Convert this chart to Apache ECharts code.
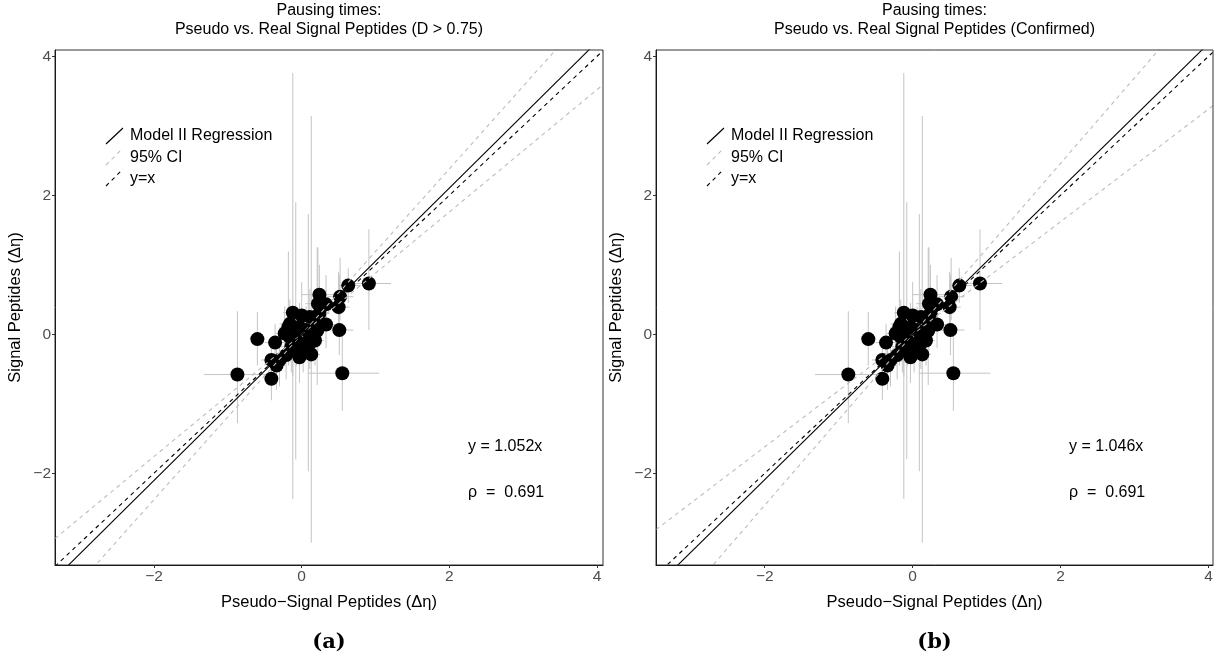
<!DOCTYPE html>
<html>
<head>
<meta charset="utf-8">
<script src="https://cdn.jsdelivr.net/npm/echarts@6/dist/echarts.min.js"></script>
<style>
html,body{margin:0;padding:0;background:#fff;}
#chart{width:1225px;height:668px;}
</style>
</head>
<body>
<div id="chart"></div>
<script>
// ---- data ----
const pointX = [-0.87,-0.60,-0.41,-0.41,-0.36,0.55,0.51,0.91,0.63,0.50,0.52,0.24,0.22,0.33,0.33,0.13,-0.12,0.00,-0.08,0.09,-0.23,-0.16,-0.03,0.06,0.15,-0.07,0.02,-0.12,-0.21,-0.30,-0.34,0.18,0.22,0.11,-0.14,-0.03,-0.16,0.11,0.24,0.21,-0.18];
const pointY = [-0.58,-0.07,-0.64,-0.37,-0.12,-0.56,0.06,0.73,0.70,0.39,0.54,0.57,0.44,0.43,0.14,-0.29,0.31,0.27,0.05,-0.10,0.01,0.15,0.10,0.06,0.01,-0.09,-0.18,-0.23,-0.30,-0.37,-0.45,-0.09,0.15,0.25,-0.18,-0.33,-0.04,-0.13,0.30,0.05,0.10];
const errXLow  = [-1.32,-0.70,-0.50,-0.55,-0.50,0.08,0.30,0.60,0.50,0.30,0.35,0.00,0.05,0.15,0.20,0.02,-0.25,-0.15,-0.20,-0.05,-0.35,-0.30,-0.15,-0.05,0.02,-0.20,-0.10,-0.25,-0.35,-0.42,-0.45,0.05,0.08,-0.02,-0.28,-0.15,-0.30,0.00,0.10,0.10,-0.30];
const errXHigh = [-0.45,-0.50,-0.33,-0.25,-0.20,1.05,0.70,1.21,0.80,0.65,0.70,0.45,0.40,0.50,0.48,0.25,0.05,0.15,0.05,0.20,-0.10,0.00,0.10,0.18,0.28,0.05,0.15,0.00,-0.08,-0.18,-0.22,0.30,0.35,0.25,0.00,0.10,-0.02,0.25,0.38,0.32,-0.05];
const errYLow  = [-1.28,-0.45,-0.95,-0.65,-0.40,-1.10,-0.30,0.06,0.45,0.00,0.20,0.20,-0.10,0.05,-0.20,-3.00,-2.37,-0.20,-1.80,-1.97,-0.35,-0.20,-0.25,-0.30,-0.30,-0.45,-0.55,-0.60,-0.65,-0.75,-0.80,-0.45,-0.25,-0.15,-0.55,-0.70,-0.40,-0.50,-0.10,-0.73,-0.45];
const errYHigh = [0.33,0.32,-0.30,-0.10,0.15,0.06,0.85,1.51,0.95,0.90,1.10,1.00,1.25,0.85,0.50,3.14,3.76,0.75,1.90,1.73,0.40,0.50,0.45,0.40,0.35,0.30,0.20,0.15,0.05,0.00,-0.10,0.30,0.55,0.65,0.20,0.05,0.30,0.25,0.70,1.25,1.19];

const panelTitles = ["Pausing times:\nPseudo vs. Real Signal Peptides (D > 0.75)", "Pausing times:\nPseudo vs. Real Signal Peptides (Confirmed)"];
const panelTags = ["(a)", "(b)"];
const regSlopes = [1.052, 1.046];
const ciLowSlopes = [0.88, 0.81];
const ciHighSlopes = [1.19, 1.23];
const slopeLabels = ["y = 1.052x", "y = 1.046x"];
const rhoLabels = ["\u03c1  =  0.691", "\u03c1  =  0.691"];
const tickValues = [-2, 0, 2, 4];
const xRanges = [[-3.34, 4.08], [-3.47, 4.06]];
const yRange = [-3.32, 4.09];
const xTitle = "Pseudo\u2212Signal Peptides (\u0394\u03b7)";
const yTitle = "Signal Peptides (\u0394\u03b7)";
const legendLabels = ["Model II Regression", "95% CI", "y=x"];

// ---- layout ----
const FONT = "Liberation Sans, Arial, sans-serif";
const grids = [
  {left: 55, top: 50, width: 548, height: 515},
  {left: 656, top: 50, width: 557, height: 515}
];

const chart = echarts.init(document.getElementById('chart'), null, {renderer: 'canvas'});

const rows = pointX.map((x, i) => [x, pointY[i], errXLow[i], errXHigh[i], errYLow[i], errYHigh[i]]);

const fmt = v => String(v).replace('-', '\u2212');

const xAxes = [], yAxes = [], series = [], graphics = [];

grids.forEach((g, p) => {
  xAxes.push({
    gridIndex: p, type: 'value', min: xRanges[p][0], max: xRanges[p][1],
    axisLine: {show: true, onZero: false, lineStyle: {color: '#000', width: 1}},
    axisTick: {show: true, customValues: tickValues, length: 3, lineStyle: {color: '#333'}},
    axisLabel: {show: true, customValues: tickValues, formatter: fmt, color: '#4d4d4d', fontSize: 15.5, fontFamily: FONT, margin: 4},
    splitLine: {show: false},
    name: xTitle, nameLocation: 'middle', nameGap: 29,
    nameTextStyle: {color: '#000', fontSize: 16.5, fontFamily: FONT}
  });
  yAxes.push({
    gridIndex: p, type: 'value', min: yRange[0], max: yRange[1],
    axisLine: {show: true, onZero: false, lineStyle: {color: '#000', width: 1}},
    axisTick: {show: true, customValues: tickValues, length: 3, lineStyle: {color: '#333'}},
    axisLabel: {show: true, customValues: tickValues, formatter: fmt, color: '#4d4d4d', fontSize: 15.5, fontFamily: FONT, margin: 4},
    splitLine: {show: false},
    name: yTitle, nameLocation: 'middle', nameGap: 31,
    nameTextStyle: {color: '#000', fontSize: 16.5, fontFamily: FONT}
  });

  // error bars
  series.push({
    type: 'custom', xAxisIndex: p, yAxisIndex: p, clip: true, z: 1, silent: true,
    data: rows,
    renderItem: function (params, api) {
      const x = api.value(0), y = api.value(1);
      const a = api.coord([api.value(2), y]);
      const b = api.coord([api.value(3), y]);
      const c = api.coord([x, api.value(4)]);
      const d = api.coord([x, api.value(5)]);
      const st = {stroke: '#c4c4c4', lineWidth: 1};
      return {type: 'group', children: [
        {type: 'line', shape: {x1: a[0], y1: a[1], x2: b[0], y2: b[1]}, style: st},
        {type: 'line', shape: {x1: c[0], y1: c[1], x2: d[0], y2: d[1]}, style: st}
      ]};
    }
  });
  // points
  series.push({
    type: 'scatter', xAxisIndex: p, yAxisIndex: p, z: 2, symbolSize: 14,
    itemStyle: {color: '#000', opacity: 1},
    data: rows.map(r => [r[0], r[1]])
  });
  const xs = xRanges[p];
  const mkLine = (slope, color, type, z) => ({
    type: 'line', xAxisIndex: p, yAxisIndex: p, z: z, clip: true, symbol: 'none', silent: true,
    lineStyle: {color: color, width: 1.1, type: type},
    data: [[xs[0], slope * xs[0]], [xs[1], slope * xs[1]]]
  });
  series.push(mkLine(ciLowSlopes[p], '#bdbdbd', [4, 4], 3));
  series.push(mkLine(ciHighSlopes[p], '#bdbdbd', [4, 4], 3));
  series.push(mkLine(regSlopes[p], '#000', 'solid', 4));
  series.push(mkLine(1, '#000', [4, 4], 4));

  const cx = g.left + g.width / 2;
  // panel border
  graphics.push({type: 'rect', shape: {x: g.left, y: g.top, width: g.width, height: g.height},
    style: {fill: 'none', stroke: '#333', lineWidth: 1}, z: 10, silent: true});
  // titles
  graphics.push({type: 'text', x: cx, y: 1, style: {text: panelTitles[p], font: '16px ' + FONT, fill: '#000', align: 'center', verticalAlign: 'top', lineHeight: 19}});
  graphics.push({type: 'text', x: cx, y: 643, style: {text: panelTags[p], font: 'bold 21px "DejaVu Serif", serif', fill: '#000', align: 'center', verticalAlign: 'middle'}});
  // annotations
  graphics.push({type: 'text', x: g.left + 413, y: 447, style: {text: slopeLabels[p], font: '16px ' + FONT, fill: '#000', align: 'left', verticalAlign: 'middle'}});
  graphics.push({type: 'text', x: g.left + 413, y: 493, style: {text: rhoLabels[p], font: '16px ' + FONT, fill: '#000', align: 'left', verticalAlign: 'middle'}});
  // legend
  const lx = g.left + 51;
  graphics.push({type: 'line', shape: {x1: lx, y1: 144, x2: lx + 17, y2: 128}, style: {stroke: '#000', lineWidth: 1.1}});
  graphics.push({type: 'line', shape: {x1: lx, y1: 165, x2: lx + 17, y2: 148}, style: {stroke: '#bdbdbd', lineWidth: 1.1, lineDash: [4, 4]}});
  graphics.push({type: 'line', shape: {x1: lx, y1: 186, x2: lx + 17, y2: 169}, style: {stroke: '#000', lineWidth: 1.1, lineDash: [4, 4]}});
  legendLabels.forEach((t, k) => {
    graphics.push({type: 'text', x: lx + 24, y: 136 + k * 21.5, style: {text: t, font: '16px ' + FONT, fill: '#000', align: 'left', verticalAlign: 'middle'}});
  });
});

chart.setOption({
  animation: false,
  backgroundColor: '#fff',
  grid: grids.map(g => Object.assign({containLabel: false}, g)),
  xAxis: xAxes,
  yAxis: yAxes,
  series: series,
  graphic: graphics
});
</script>
</body>
</html>
